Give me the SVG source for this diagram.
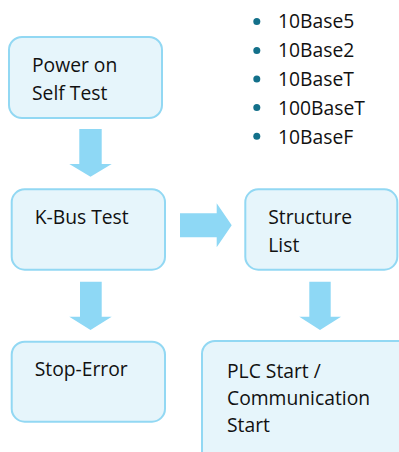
<svg xmlns="http://www.w3.org/2000/svg" width="399" height="452" viewBox="0 0 399 452">
<style>
.box{fill:#e6f5fb;stroke:#92d8f3;stroke-width:2}
.arr{fill:#8ed8f5}
.t{font-family:"Open Sans","Noto Sans",sans-serif;font-size:19.3px;fill:#111}
.b{fill:#13708a}
</style>
<rect width="399" height="452" fill="#ffffff"/>
<g id="connectors">
<polygon class="arr" points="79.3,129 101.7,129 101.7,164 111.7,164 90.5,176.7 69.3,164 79.3,164"/>
<polygon class="arr" points="80,281.7 101.7,281.7 101.7,316.7 111.7,316.7 90.5,330 69.3,316.7 80,316.7"/>
<polygon class="arr" points="309.3,281.7 330.7,281.7 330.7,316.7 341,316.7 320,330 299.3,316.7 309.3,316.7"/>
<polygon class="arr" points="180,213.3 216.7,213.3 216.7,203.3 231.7,225.3 216.7,247.3 216.7,237.3 180,237.3"/>
</g>
<g id="power-on">
<rect class="box" x="9" y="37" width="153" height="81" rx="13"/>
<text class="t" x="32" y="72.3">Power on</text>
<text class="t" x="32" y="100">Self Test</text>
</g>
<g id="kbus">
<rect class="box" x="11.7" y="189.3" width="153.3" height="80.4" rx="13"/>
<text class="t" x="34.7" y="224">K-Bus Test</text>
</g>
<g id="stop-error">
<rect class="box" x="11.7" y="341.7" width="153.3" height="80" rx="13"/>
<text class="t" x="34.7" y="375.7">Stop-Error</text>
</g>
<g id="structure-list">
<rect class="box" x="245.3" y="189.3" width="152" height="80.4" rx="13"/>
<text class="t" x="268.3" y="224.3">Structure</text>
<text class="t" x="268.3" y="251.7">List</text>
</g>
<g id="plc-start">
<rect class="box" x="202" y="341" width="215" height="130" rx="13"/>
<text class="t" x="227" y="377.7">PLC Start /</text>
<text class="t" x="227" y="405">Communication</text>
<text class="t" x="227" y="431.7">Start</text>
</g>
<g id="list">
<circle class="b" cx="256.8" cy="21.5" r="3.5"/>
<circle class="b" cx="256.8" cy="50.5" r="3.5"/>
<circle class="b" cx="256.8" cy="79" r="3.5"/>
<circle class="b" cx="256.8" cy="107.5" r="3.5"/>
<circle class="b" cx="256.8" cy="136.3" r="3.5"/>
<text class="t" x="278" y="28">10Base5</text>
<text class="t" x="278" y="57">10Base2</text>
<text class="t" x="278" y="85.7">10BaseT</text>
<text class="t" x="278" y="114.5">100BaseT</text>
<text class="t" x="278" y="143.5">10BaseF</text>
</g>
</svg>
